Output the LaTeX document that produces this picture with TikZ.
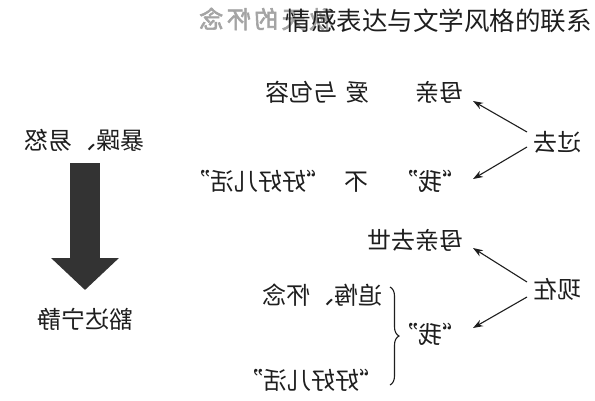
\documentclass[tikz,border=0pt]{standalone}
\usepackage{fontspec}
\usepackage{graphicx}
\setmainfont{Noto Sans CJK SC}
\newfontfamily\wmfont[FakeBold=2.5]{Noto Sans CJK SC}
\usetikzlibrary{arrows.meta,decorations.pathreplacing}
\newcommand{\mirtxt}[1]{\scalebox{-1}[1]{#1}}
\definecolor{ink}{HTML}{1E1E1E}
\definecolor{arrowgray}{HTML}{333333}
\definecolor{wmgray}{HTML}{A4A4A4}
\begin{document}
\begin{tikzpicture}[x=1pt,y=-1pt,
  lbl/.style={font=\fontsize{24}{24}\selectfont, text=ink, inner sep=0pt},
  conn/.style={draw=ink, line width=1.1pt, -{Stealth[length=10pt,width=7pt]}},
  bigarrow/.style={draw=arrowgray, line width=30pt, -{Triangle[width=66pt,length=32pt]}},
  bracestyle/.style={draw=ink, line width=1.1pt, decorate, decoration={brace, amplitude=9pt}},
  ]
\fill[white] (0,0) rectangle (595,400);
\useasboundingbox (0,0) rectangle (595,400);

% watermark and title
\node[font=\wmfont\fontsize{24}{24}\selectfont, text=wmgray, inner sep=0pt, anchor=west] (wm) at (199,19) {\mirtxt{秋\hspace{3.5pt}天\hspace{3.5pt}的\hspace{3.5pt}怀\hspace{3.5pt}念}};
\node[font=\fontsize{25.5}{26}\selectfont, text=ink, inner sep=0pt, anchor=east] (title) at (592,21) {情感表达与文学风格的联系};

% left part
\node[lbl, anchor=south] (anger) at (85,152) {\mirtxt{暴躁、易怒}};
\node[lbl, anchor=north] (calm) at (85,308) {\mirtxt{豁达宁静}};
\draw[bigarrow, shorten <=11pt, shorten >=18pt] (anger.south) -- (calm.north);

% past
\node[lbl, anchor=west] (past) at (533,142) {\mirtxt{过去}};
\node[lbl, anchor=east] (mother1) at (464,92) {\mirtxt{母亲}};
\node[lbl] (love) at (317,92) {\mirtxt{爱\hspace{8pt}与包容}};
\node[lbl, anchor=east] (me1) at (467,181) {\mirtxt{“我”}};
\node[lbl] (notlive) at (277,181) {\mirtxt{不\hspace{14pt}“好好儿活”}};
\draw[conn] ([xshift=-6pt,yshift=10pt]past.west) -- ([xshift=9pt,yshift=-9pt]mother1.east);
\draw[conn] ([xshift=-6pt,yshift=-5pt]past.west) -- ([xshift=6pt,yshift=2pt]me1.east);

% now
\node[lbl, anchor=west] (now) at (533,289) {\mirtxt{现在}};
\node[lbl, anchor=east] (mother2) at (464,240) {\mirtxt{母亲去世}};
\node[lbl, anchor=east] (me2) at (467,334) {\mirtxt{“我”}};
\node[lbl, anchor=east] (regret) at (383,295) {\mirtxt{追悔、怀念}};
\node[lbl, anchor=east] (live) at (384,380) {\mirtxt{“好好儿活”}};
\draw[conn] ([xshift=-6pt,yshift=7pt]now.west) -- ([xshift=9pt,yshift=-8pt]mother2.east);
\draw[conn] ([xshift=-6pt,yshift=-8pt]now.west) -- ([xshift=6pt,yshift=6pt]me2.east);

\coordinate (btop) at (390,287);
\coordinate (bbot) at (390,385);
\draw[bracestyle] (btop) -- (bbot);
\end{tikzpicture}
\end{document}
